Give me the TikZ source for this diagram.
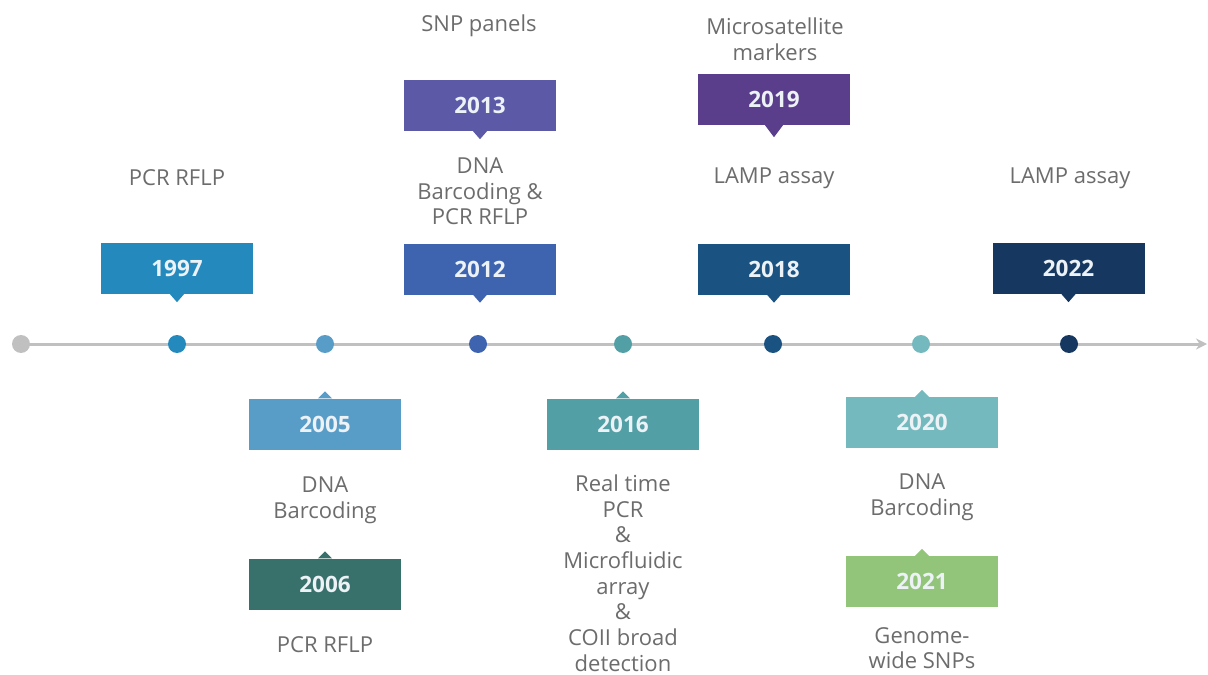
\documentclass[tikz,border=0pt]{standalone}
\usepackage{fontspec}
\setmainfont{Open Sans}
\usetikzlibrary{arrows.meta}
\definecolor{c1997}{RGB}{36,138,190}
\definecolor{c2005}{RGB}{88,156,200}
\definecolor{c2006}{RGB}{56,112,108}
\definecolor{c2012}{RGB}{62,100,176}
\definecolor{c2013}{RGB}{92,90,166}
\definecolor{c2016}{RGB}{82,160,166}
\definecolor{c2018}{RGB}{26,82,130}
\definecolor{c2019}{RGB}{90,62,140}
\definecolor{c2020}{RGB}{116,185,189}
\definecolor{c2021}{RGB}{146,196,122}
\definecolor{c2022}{RGB}{22,56,96}
\definecolor{linegray}{RGB}{192,192,192}
\definecolor{txtgray}{RGB}{108,108,108}
\definecolor{yeartxt}{RGB}{236,242,246}
\begin{document}
\begin{tikzpicture}[x=1bp,y=-1bp,
  yearbox/.style={rectangle, minimum width=152bp, minimum height=51bp, inner sep=0pt,
    text=yeartxt, font=\fontsize{22.5bp}{26bp}\selectfont\bfseries},
  dot/.style={circle, minimum size=18bp, inner sep=0pt},
  lbl/.style={text=txtgray, align=center, inner sep=0pt, font=\fontsize{22bp}{25.7bp}\selectfont}]
\useasboundingbox (0,0) rectangle (1208,675);
% timeline
\node[dot, fill=linegray] (d0) at (21,344) {};
\coordinate (tend) at (1207,344);
\draw[linegray, line width=3bp, -{Stealth[length=11bp,width=11bp]}] (d0.center) -- (tend);
\node[dot, fill=c1997] (d1) at (177,344) {};
\node[dot, fill=c2005] (d2) at (325,344) {};
\node[dot, fill=c2012] (d3) at (478,344) {};
\node[dot, fill=c2016] (d4) at (623,344) {};
\node[dot, fill=c2018] (d5) at (773,344) {};
\node[dot, fill=c2020] (d6) at (921,344) {};
\node[dot, fill=c2022] (d7) at (1069,344) {};
% boxes above
\node[yearbox, fill=c1997] (b1997) at (177,268.5) {1997};
\node[yearbox, fill=c2012] (b2012) at (480,269) {2012};
\node[yearbox, fill=c2013] (b2013) at (480,105.5) {2013};
\node[yearbox, fill=c2018] (b2018) at (774,269) {2018};
\node[yearbox, fill=c2019] (b2019) at (774,99.5) {2019};
\node[yearbox, fill=c2022] (b2022) at (1068.5,268.5) {2022};
% boxes below
\node[yearbox, fill=c2005] (b2005) at (325,424) {2005};
\node[yearbox, fill=c2006] (b2006) at (325,584) {2006};
\node[yearbox, fill=c2016] (b2016) at (623,424) {2016};
\node[yearbox, fill=c2020] (b2020) at (922,422.5) {2020};
\node[yearbox, fill=c2021] (b2021) at (922,581.5) {2021};
% pointers (down)
\foreach \b/\c in {b1997/c1997,b2012/c2012,b2013/c2013,b2018/c2018,b2022/c2022}{
  \fill[\c] ([xshift=-7bp]\b.south) -- ([xshift=7bp]\b.south) -- ([yshift=-8bp]\b.south) -- cycle;}
\fill[c2019] ([xshift=-9bp]b2019.south) -- ([xshift=9bp]b2019.south) -- ([yshift=-12bp]b2019.south) -- cycle;
% pointers (up)
\foreach \b/\c in {b2005/c2005,b2006/c2006,b2016/c2016,b2020/c2020,b2021/c2021}{
  \fill[\c] ([xshift=-7bp]\b.north) -- ([xshift=7bp]\b.north) -- ([yshift=7bp]\b.north) -- cycle;}
% labels
\node[lbl] (t1997) at (177,178) {PCR RFLP};
\node[lbl] (t2013) at (479,26) {SNP panels};
\node[lbl] (t2019) at (775,39.5) {Microsatellite\\markers};
\node[lbl] (t2012) at (480,191.5) {DNA\\Barcoding \&\\PCR RFLP};
\node[lbl] (t2018) at (774,178.5) {LAMP assay};
\node[lbl] (t2022) at (1070,178.5) {LAMP assay};
\node[lbl] (t2005) at (325,500) {DNA\\Barcoding};
\node[lbl] (t2006) at (325,645) {PCR RFLP};
\node[lbl] (t2016) at (623,573) {Real time\\PCR\\\&\\Microfluidic\\array\\\&\\COII broad\\detection};
\node[lbl] (t2020) at (922,497.5) {DNA\\Barcoding};
\node[lbl] (t2021) at (922,648) {Genome-\\wide SNPs};
\end{tikzpicture}
\end{document}
